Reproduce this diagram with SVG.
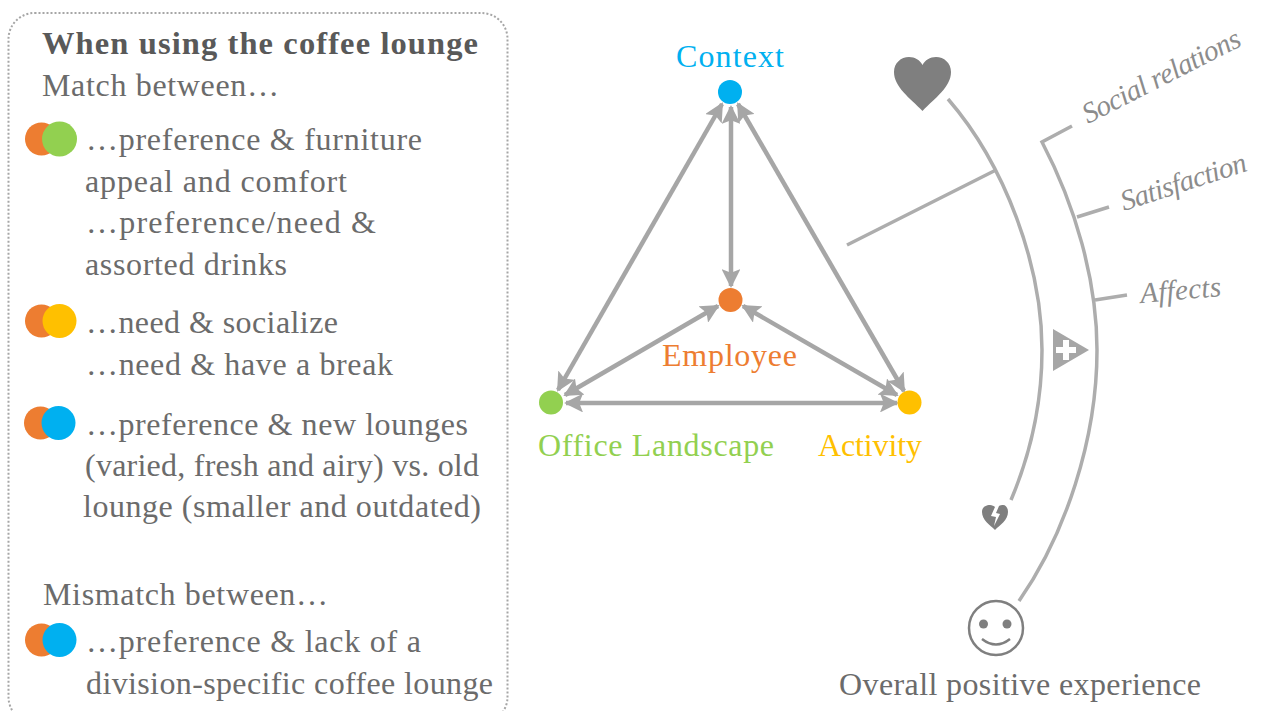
<svg xmlns="http://www.w3.org/2000/svg" width="1267" height="711" viewBox="0 0 1267 711">
<style>
text{font-family:"Liberation Serif","Times New Roman",serif;font-size:32px;fill:#6b6b6b}
.b{font-weight:bold;fill:#595959;font-size:32.500px}
.i{font-style:italic;fill:#8c8c8c;font-size:29px}
.l{fill:none;stroke:#adadad;stroke-width:3.500}
.a{fill:none;stroke:#a6a6a6;stroke-width:4.500;marker-start:url(#h);marker-end:url(#h)}
.o{fill:#ed7d31}.g{fill:#92d050}.y{fill:#ffc000}.c{fill:#00b0f0}
</style>
<defs>
<marker id="h" viewBox="0 0 10 10" refX="9" refY="5" markerWidth="4.200" markerHeight="4.200" orient="auto-start-reverse"><path d="M0 0L10 5L0 10L2 5Z" fill="#a6a6a6"/></marker>
</defs>
<rect id="panel" x="8.500" y="13" width="499" height="710" rx="26" fill="#fff" stroke="#a6a6a6" stroke-width="2" stroke-dasharray="2 2"/>
<g id="panel-text">
<text class="b" x="42" y="54" textLength="436" lengthAdjust="spacing">When using the coffee lounge</text>
<text x="42" y="96" textLength="237" lengthAdjust="spacing">Match between…</text>
<text x="86" y="150" textLength="336" lengthAdjust="spacing">…preference &amp; furniture</text>
<text x="85" y="192" textLength="262" lengthAdjust="spacing">appeal and comfort</text>
<text x="86" y="233" textLength="290" lengthAdjust="spacing">…preference/need &amp;</text>
<text x="85" y="275" textLength="202" lengthAdjust="spacing">assorted drinks</text>
<text x="86" y="333" textLength="252" lengthAdjust="spacing">…need &amp; socialize</text>
<text x="86" y="375" textLength="307" lengthAdjust="spacing">…need &amp; have a break</text>
<text x="86" y="435" textLength="382" lengthAdjust="spacing">…preference &amp; new lounges</text>
<text x="85" y="476" textLength="394" lengthAdjust="spacing">(varied, fresh and airy) vs. old</text>
<text x="83" y="517" textLength="398" lengthAdjust="spacing">lounge (smaller and outdated)</text>
<text x="43" y="605" textLength="285" lengthAdjust="spacing">Mismatch between…</text>
<text x="86" y="652" textLength="335" lengthAdjust="spacing">…preference &amp; lack of a</text>
<text x="86" y="694" textLength="407" lengthAdjust="spacing">division-specific coffee lounge</text>
</g>
<g id="venn-1"><circle class="o" cx="41.500" cy="139" r="16.500"/><circle class="g" cx="59.500" cy="139" r="17.500"/></g>
<g id="venn-2"><circle class="o" cx="41.500" cy="321" r="16.500"/><circle class="y" cx="59.500" cy="321" r="17"/></g>
<g id="venn-3"><circle class="o" cx="40.500" cy="423" r="16.500"/><circle class="c" cx="58.500" cy="423" r="17"/></g>
<g id="venn-4"><circle class="o" cx="41.500" cy="640" r="16.500"/><circle class="c" cx="59.500" cy="640" r="17"/></g>
<g id="connectors">
<line class="a" x1="731" y1="107" x2="731" y2="286"/>
<line class="a" x1="722" y1="104" x2="558" y2="390"/>
<line class="a" x1="738" y1="104" x2="904" y2="391"/>
<line class="a" x1="718" y1="306" x2="565" y2="395"/>
<line class="a" x1="743" y1="306" x2="897" y2="395"/>
<line class="a" x1="566" y1="403" x2="897" y2="403"/>
<path class="l" d="M948 99C1005 165 1042 265 1042 350C1042 405 1030 455 1011 500"/>
<path class="l" d="M1072 126L1042 142C1075 205 1097 280 1097 350C1097 440 1065 535 1019 601"/>
<path class="l" d="M847 245L996 170M1077 217L1109 207M1095 300L1127 295"/>
</g>
<g id="context"><circle class="c" cx="730" cy="92" r="12"/><text class="c" x="676" y="67" textLength="108" lengthAdjust="spacing">Context</text></g>
<g id="employee"><circle class="o" cx="730.500" cy="300" r="12"/><text class="o" x="662" y="366" textLength="135" lengthAdjust="spacing">Employee</text></g>
<g id="office"><circle class="g" cx="551" cy="402.500" r="12"/><text class="g" x="538" y="456" textLength="236" lengthAdjust="spacing">Office Landscape</text></g>
<g id="activity"><circle class="y" cx="909.500" cy="402.500" r="12"/><text class="y" x="818" y="456" textLength="104" lengthAdjust="spacing">Activity</text></g>
<g id="labels">
<text class="i" transform="translate(1088 124) rotate(-27)" textLength="174" lengthAdjust="spacing">Social relations</text>
<text class="i" transform="translate(1124 211) rotate(-18)" textLength="131" lengthAdjust="spacing">Satisfaction</text>
<text class="i" transform="translate(1141 303) rotate(-5)" textLength="81" lengthAdjust="spacing">Affects</text>
</g>
<g id="heart"><path d="M922.500 111C910 98 894 87 894 72C894 63 901 57 909 57C915 57 920 60 922.500 65C925 60 930 57 936 57C944 57 951 63 951 72C951 87 935 98 922.500 111Z" fill="#7f7f7f"/></g>
<g id="broken-heart"><path d="M995 530C990 525 982 520 982 512C982 507 986 505 990 505C992 505 994 506 995 507L991 516L996 517L994 526L1000 514L996 513L999 506C1000 505 1002 505 1003 505C1006 505 1008 508 1008 512C1008 520 1000 525 995 530Z" fill="#7f7f7f"/></g>
<g id="plus"><path d="M1053 329L1089 350L1053 371Z" fill="#a6a6a6"/><path d="M1056 350H1076M1066 340V360" stroke="#fff" stroke-width="6"/></g>
<g id="smiley"><circle cx="996" cy="628" r="27" fill="none" stroke="#7f7f7f" stroke-width="2.500"/><circle cx="983.500" cy="624" r="4.500" fill="#7f7f7f"/><circle cx="1007" cy="624" r="4.500" fill="#7f7f7f"/><path d="M982 639Q996 650 1010 639" fill="none" stroke="#7f7f7f" stroke-width="2.500"/></g>
<text id="overall" x="839" y="695" textLength="362" lengthAdjust="spacing">Overall positive experience</text>
</svg>
